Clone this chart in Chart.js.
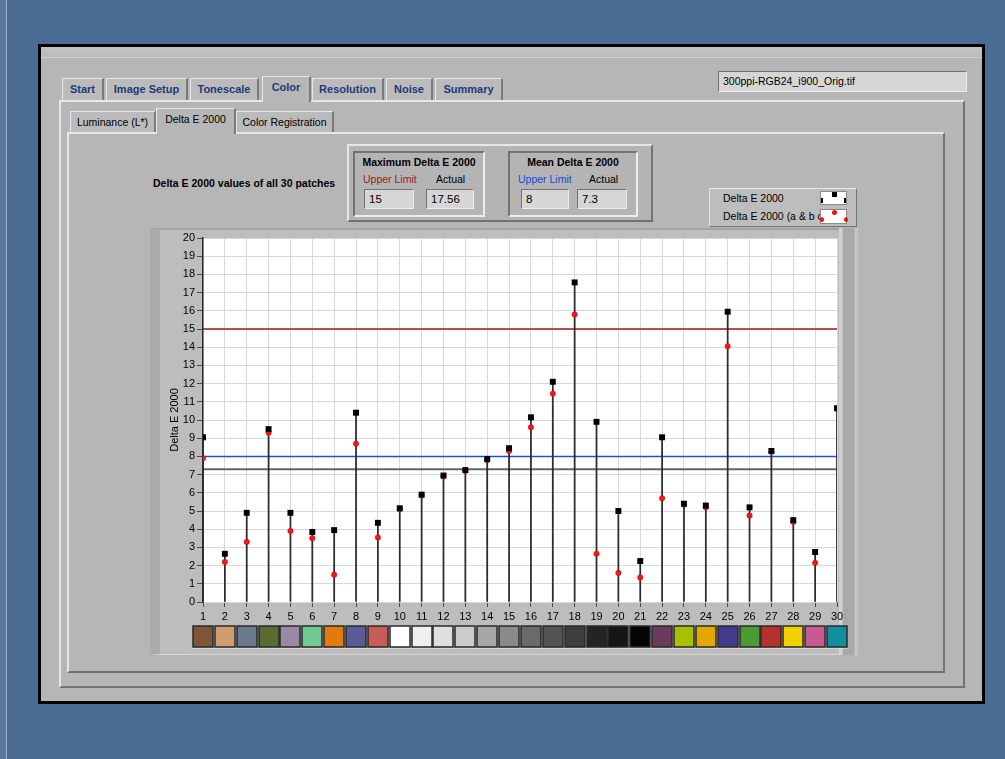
<!DOCTYPE html>
<html>
<head>
<meta charset="utf-8">
<title>Delta E 2000</title>
<script src="https://cdn.jsdelivr.net/npm/chart.js@4.4.1/dist/chart.umd.min.js"></script>
<style>
  * { box-sizing: border-box; }
  body {
    margin: 0; width: 1005px; height: 759px; position: relative; overflow: hidden;
    background: #4a6b92;
    font-family: "Liberation Sans", Arial, sans-serif; font-size: 10.5px; color: #000;
  }
  .a { position: absolute; }
  .raised { border-top: 1px solid #e6e6e6; border-left: 1px solid #e6e6e6; border-right: 1px solid #737373; border-bottom: 1px solid #737373; }
  .sunken { border-top: 1px solid #737373; border-left: 1px solid #737373; border-right: 1px solid #ececec; border-bottom: 1px solid #ececec; }
  .frame { left: 38px; top: 44px; width: 947px; height: 660px; background: #b6b6b6; border: 3px solid #000; }
  .topband { left: 41px; top: 47px; width: 941px; height: 11px; background: linear-gradient(#c3c3c3, #bbbbbb); border-bottom: 1px solid #cfcfcf; }
  .tab { height: 22px; top: 78px; background: #bbbbbb; border-top: 1px solid #e8e8e8; border-left: 1px solid #e8e8e8; border-right: 2px solid #7a7a7a;
         font-weight: bold; color: #1b3a7a; text-align: center; line-height: 21px; font-size: 11px; }
  .tab.sel { top: 76px; height: 26px; background: #b6b6b6; z-index: 2; line-height: 20px; }
  .subtab { height: 21px; top: 111px; background: #bbbbbb; border-top: 1px solid #e8e8e8; border-left: 1px solid #e8e8e8; border-right: 2px solid #7a7a7a;
            text-align: center; line-height: 20px; font-size: 10.5px; }
  .subtab.sel { top: 108px; height: 26px; background: #b6b6b6; z-index: 2; line-height: 21px; }
  .box { background: #d6d6d6; height: 20px; line-height: 18px; padding-left: 4px; font-size: 11.5px; }
  .lbl { font-size: 10.5px; }
  .bold { font-weight: bold; }
</style>
</head>
<body>
<!-- desktop edge -->
<div class="a" style="left:0;top:0;width:7px;height:759px;background:#5c7a9e;border-right:1px solid #9fb2c8;"></div>

<!-- window -->
<div class="a frame"></div>
<div class="a topband"></div>

<!-- file name -->
<div class="a sunken box" style="left:718px;top:71px;width:249px;height:21px;font-size:10.5px;">300ppi-RGB24_i900_Orig.tif</div>

<!-- main tab control -->
<div class="a raised" style="left:59px;top:100px;width:906px;height:588px;border-width:2px;background:#b6b6b6;"></div>
<div class="a tab" style="left:62px;width:42px;">Start</div>
<div class="a tab" style="left:106px;width:82px;">Image Setup</div>
<div class="a tab" style="left:190px;width:69px;">Tonescale</div>
<div class="a tab sel" style="left:262px;width:49px;">Color</div>
<div class="a tab" style="left:312px;width:72px;">Resolution</div>
<div class="a tab" style="left:386px;width:47px;">Noise</div>
<div class="a tab" style="left:435px;width:68px;">Summary</div>

<!-- sub tab control -->
<div class="a raised" style="left:67px;top:132px;width:878px;height:541px;border-width:2px;background:#b6b6b6;"></div>
<div class="a subtab" style="left:70px;width:86px;">Luminance (L*)</div>
<div class="a subtab sel" style="left:156px;width:80px;">Delta E 2000</div>
<div class="a subtab" style="left:236px;width:98px;">Color Registration</div>

<!-- summary indicators -->
<div class="a lbl bold" style="left:153px;top:177px;">Delta E 2000 values of all 30 patches</div>
<div class="a raised" style="left:347px;top:144px;width:306px;height:78px;border-width:2px;background:#b4b4b4;"></div>

<div class="a sunken" style="left:353px;top:151px;width:132px;height:66px;border-width:2px;"></div>
<div class="a lbl bold" style="left:353px;top:156px;width:132px;text-align:center;">Maximum Delta E 2000</div>
<div class="a lbl" style="left:363px;top:173px;color:#9c1b1b;">Upper Limit</div>
<div class="a lbl" style="left:436px;top:173px;">Actual</div>
<div class="a sunken box" id="maxLimitBox" style="left:364px;top:189px;width:50px;"></div>
<div class="a sunken box" id="maxActualBox" style="left:426px;top:189px;width:48px;"></div>

<div class="a sunken" style="left:508px;top:151px;width:130px;height:66px;border-width:2px;"></div>
<div class="a lbl bold" style="left:508px;top:156px;width:130px;text-align:center;">Mean Delta E 2000</div>
<div class="a lbl" style="left:518px;top:173px;color:#1f45dd;">Upper Limit</div>
<div class="a lbl" style="left:589px;top:173px;">Actual</div>
<div class="a sunken box" id="meanLimitBox" style="left:521px;top:189px;width:48px;"></div>
<div class="a sunken box" id="meanActualBox" style="left:577px;top:189px;width:50px;"></div>

<!-- plot legend -->
<div class="a raised" style="left:709px;top:188px;width:148px;height:39px;background:#bdbdbd;"></div>
<div class="a lbl" style="left:723px;top:192px;">Delta E 2000</div>
<div class="a lbl" style="left:723px;top:210px;width:97px;overflow:hidden;white-space:nowrap;">Delta E 2000 (a &amp; b c</div>
<div class="a" style="left:820px;top:191px;width:27px;height:14px;background:#fff;border:1px solid #8a8a8a;">
  <div class="a" style="left:11px;top:0px;width:5px;height:5px;background:#000;"></div>
  <div class="a" style="left:0px;top:6px;width:2px;height:5px;background:#000;"></div>
  <div class="a" style="left:23px;top:6px;width:2px;height:5px;background:#000;"></div>
</div>
<div class="a" style="left:820px;top:209px;width:27px;height:15px;background:#fff;border:1px solid #8a8a8a;">
  <div class="a" style="left:11px;top:0px;width:5px;height:5px;border-radius:50%;background:#f01010;"></div>
  <div class="a" style="left:-1px;top:7px;width:4px;height:5px;border-radius:50%;background:#f01010;"></div>
  <div class="a" style="left:23px;top:7px;width:4px;height:5px;border-radius:50%;background:#f01010;"></div>
</div>

<!-- graph panel -->
<div class="a" style="left:150px;top:228px;width:708px;height:427px;background:#bdbdbd;border-top:2px solid #a4a4a4;border-left:10px solid #ababab;border-bottom:1px solid #d8d8d8;"></div>
<div class="a" style="left:839px;top:228px;width:19px;height:427px;background:linear-gradient(90deg,#d2d2d2 0,#d2d2d2 3px,#a9a9a9 4px,#a9a9a9 15px,#c6c6c6 16px);"></div>
<canvas id="plot" class="a" style="left:150px;top:228px;" width="708" height="427"></canvas>

<script>
// Patch numbers of the 30-patch colour target
const patchNumbers = [1, 2, 3, 4, 5, 6, 7, 8, 9, 10, 11, 12, 13, 14, 15,
                      16, 17, 18, 19, 20, 21, 22, 23, 24, 25, 26, 27, 28, 29, 30];

// Delta E 2000 per patch (black squares)
const deltaE2000 = [9.05, 2.65, 4.9, 9.5, 4.9, 3.85, 3.95, 10.4, 4.35, 5.15,
                    5.9, 6.95, 7.25, 7.85, 8.45, 10.15, 12.1, 17.56, 9.9, 5.0,
                    2.25, 9.05, 5.4, 5.3, 15.95, 5.2, 8.3, 4.5, 2.75, 10.65];

// Delta E 2000 using the a & b components only (red dots)
const deltaEab = [7.9, 2.2, 3.3, 9.3, 3.9, 3.5, 1.5, 8.7, 3.55, 5.1,
                  5.85, 6.9, 7.2, 7.8, 8.3, 9.6, 11.45, 15.8, 2.65, 1.6,
                  1.35, 5.7, 5.35, 5.2, 14.05, 4.75, 8.25, 4.4, 2.15, 10.6];

// Swatch colour of each patch, shown under the x axis
const patchColors = ['#7d5638', '#d09d70', '#687a8c', '#5a6b33', '#978aa2', '#72c996',
                     '#e07b0c', '#5b5b9b', '#c85c58', '#ffffff', '#efefef', '#dfdfdf',
                     '#cbcbcb', '#a7a7a7', '#8a8a8a', '#6a6a6a', '#545454', '#3e3e3e',
                     '#242424', '#161616', '#050505', '#6b3b5c', '#a9c000', '#e6a600',
                     '#433b8c', '#4b9a32', '#b8302b', '#f0d000', '#c85a91', '#0f909c'];

// Limits and summary values
const maxUpperLimit = 15;
const maxActual = 17.56;
const meanUpperLimit = 8;
const meanActual = 7.3;

// Y axis tick values
const yTicks = [0, 1, 2, 3, 4, 5, 6, 7, 8, 9, 10, 11, 12, 13, 14, 15, 16, 17, 18, 19, 20];

document.getElementById('maxLimitBox').textContent = maxUpperLimit;
document.getElementById('maxActualBox').textContent = maxActual;
document.getElementById('meanLimitBox').textContent = meanUpperLimit;
document.getElementById('meanActualBox').textContent = meanActual;

const first = patchNumbers[0];
const last = patchNumbers[patchNumbers.length - 1];
const hLine = v => [{ x: first, y: v }, { x: last, y: v }];
const points = arr => patchNumbers.map((p, i) => ({ x: p, y: arr[i] }));
const font = { family: '"Liberation Sans", Arial, sans-serif', size: 11 };

// White plotting area
const plotBackground = {
  id: 'plotBackground',
  beforeDraw(chart) {
    const { ctx, chartArea: a } = chart;
    ctx.save();
    ctx.fillStyle = '#ffffff';
    ctx.fillRect(a.left, a.top, a.right - a.left, a.bottom - a.top);
    ctx.restore();
  }
};

// Row of patch swatches below the tick labels
const patchStrip = {
  id: 'patchStrip',
  afterDraw(chart) {
    const { ctx, chartArea: a, scales: { x } } = chart;
    const top = a.bottom + 24, w = 20, h = 21;
    ctx.save();
    patchNumbers.forEach((p, i) => {
      const cx = Math.round(x.getPixelForValue(p));
      ctx.fillStyle = patchColors[i];
      ctx.fillRect(cx - w / 2, top, w, h);
      ctx.strokeStyle = '#2a2a2a';
      ctx.lineWidth = 1.5;
      ctx.strokeRect(cx - w / 2, top, w, h);
      ctx.strokeStyle = 'rgba(255,255,255,0.35)';
      ctx.lineWidth = 1;
      ctx.beginPath();
      ctx.moveTo(cx - w / 2 - 1.5, top + h + 1.5);
      ctx.lineTo(cx + w / 2 + 1.5, top + h + 1.5);
      ctx.stroke();
    });
    ctx.restore();
  }
};

new Chart(document.getElementById('plot'), {
  type: 'scatter',
  data: {
    datasets: [
      { type: 'line', label: 'Maximum upper limit', data: hLine(maxUpperLimit), showLine: true,
        borderColor: '#a3161a', borderWidth: 1.5, pointRadius: 0, order: 6 },
      { type: 'line', label: 'Mean upper limit', data: hLine(meanUpperLimit), showLine: true,
        borderColor: '#1d4fe3', borderWidth: 1.5, pointRadius: 0, order: 6 },
      { type: 'line', label: 'Mean actual', data: hLine(meanActual), showLine: true,
        borderColor: '#646464', borderWidth: 2, pointRadius: 0, order: 6 },
      { type: 'bar', label: 'Stems', data: points(deltaE2000), backgroundColor: '#2b2b2b',
        barThickness: 1.1, grouped: false, order: 4 },
      { type: 'scatter', label: 'Delta E 2000 (a & b c', data: points(deltaEab), pointStyle: 'circle',
        pointRadius: 2.7, backgroundColor: '#ff1515', borderColor: '#b00000', borderWidth: 0.5,
        clip: 0, order: 2 },
      { type: 'scatter', label: 'Delta E 2000', data: points(deltaE2000), pointStyle: 'rect',
        pointRadius: 4.2, backgroundColor: '#000000', borderWidth: 0, clip: 0, order: 1 }
    ]
  },
  options: {
    responsive: false,
    animation: false,
    events: [],
    layout: { padding: { left: 0, right: 21, top: 10, bottom: 0 } },
    plugins: { legend: { display: false }, tooltip: { enabled: false } },
    scales: {
      x: {
        type: 'linear', min: first, max: last, offset: false,
        afterFit(s) { s.height = 53; },
        ticks: { stepSize: 1, autoSkip: false, maxRotation: 0, font, color: '#000', padding: 3 },
        grid: { color: '#d7d7d7', tickColor: '#4a4a4a', tickLength: 5, offset: false },
        border: { display: false }
      },
      y: {
        min: yTicks[0], max: yTicks[yTicks.length - 1],
        afterFit(s) { s.width = 53; },
        afterBuildTicks(s) { s.ticks = yTicks.map(v => ({ value: v })); },
        ticks: { font, color: '#000', padding: 2 },
        grid: { color: '#d7d7d7', tickColor: '#4a4a4a', tickLength: 6 },
        border: { color: '#2a2a2a', width: 1.5 },
        title: { display: true, text: 'Delta E 2000', font, color: '#000', padding: { top: 18, bottom: 0 } }
      }
    }
  },
  plugins: [plotBackground, patchStrip]
});
</script>
</body>
</html>
